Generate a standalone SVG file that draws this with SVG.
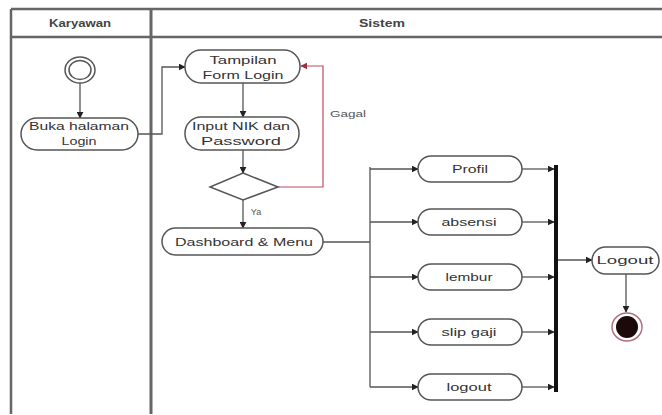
<svg xmlns="http://www.w3.org/2000/svg" width="662" height="415" viewBox="0 0 662 415">
<style>
text{font-family:"Liberation Sans",Arial,sans-serif;fill:#333;text-anchor:middle}
.hdr{font-size:10px;font-weight:bold;fill:#444}
.lbl{font-size:11px}
.small{font-size:9px;fill:#555}
.node{fill:#fff;stroke:#555;stroke-width:1.5}
.lane{stroke:#666;stroke-width:2.5;fill:none}
.conn{stroke:#555;stroke-width:1.3;fill:none}
.red{stroke:#c04a60;stroke-width:1.2;fill:none}
</style>
<defs>
<marker id="arr" viewBox="0 0 10 10" refX="9" refY="5" markerWidth="7" markerHeight="7" orient="auto" markerUnits="userSpaceOnUse">
<path d="M0,0 L10,5 L0,10 z" fill="#222"/>
</marker>
<marker id="arrR" viewBox="0 0 10 10" refX="9" refY="5" markerWidth="7" markerHeight="7" orient="auto" markerUnits="userSpaceOnUse">
<path d="M0,0 L10,5 L0,10 z" fill="#a03040"/>
</marker>
</defs>
<rect width="662" height="415" fill="#fff"/>
<g id="lanes">
<line class="lane" x1="11" y1="9" x2="662" y2="9"/>
<line class="lane" x1="11" y1="37" x2="662" y2="37"/>
<line class="lane" x1="11" y1="9" x2="11" y2="414"/>
<line class="lane" x1="151" y1="9" x2="151" y2="414" style="stroke-width:3"/>
<text class="hdr" x="80" y="27" textLength="62" lengthAdjust="spacingAndGlyphs">Karyawan</text>
<text class="hdr" x="382" y="27" textLength="46" lengthAdjust="spacingAndGlyphs">Sistem</text>
</g>
<g id="connectors">
<line class="conn" x1="80" y1="83" x2="80" y2="118" marker-end="url(#arr)"/>
<polyline class="conn" points="138,134 162,134 162,67 185,67" marker-end="url(#arr)"/>
<line class="conn" x1="243" y1="83" x2="243" y2="117" marker-end="url(#arr)"/>
<line class="conn" x1="243" y1="150" x2="243" y2="173" marker-end="url(#arr)"/>
<polyline class="red" points="278,187 323,187 323,66 301,66" marker-end="url(#arrR)"/>
<text class="small" x="348" y="117" textLength="36" lengthAdjust="spacingAndGlyphs">Gagal</text>
<line class="conn" x1="243" y1="200" x2="243" y2="228" marker-end="url(#arr)"/>
<text class="small" x="256" y="215">Ya</text>
<line class="conn" x1="323" y1="242" x2="370" y2="242"/>
<line class="conn" x1="370" y1="167" x2="370" y2="387"/>
<line class="conn" x1="370" y1="169" x2="418" y2="169" marker-end="url(#arr)"/>
<line class="conn" x1="370" y1="222" x2="418" y2="222" marker-end="url(#arr)"/>
<line class="conn" x1="370" y1="277" x2="418" y2="277" marker-end="url(#arr)"/>
<line class="conn" x1="370" y1="332" x2="418" y2="332" marker-end="url(#arr)"/>
<line class="conn" x1="370" y1="387" x2="418" y2="387" marker-end="url(#arr)"/>
<line class="conn" x1="522" y1="169" x2="554" y2="169" marker-end="url(#arr)"/>
<line class="conn" x1="522" y1="222" x2="554" y2="222" marker-end="url(#arr)"/>
<line class="conn" x1="522" y1="277" x2="554" y2="277" marker-end="url(#arr)"/>
<line class="conn" x1="522" y1="332" x2="554" y2="332" marker-end="url(#arr)"/>
<line class="conn" x1="522" y1="387" x2="554" y2="387" marker-end="url(#arr)"/>
<line class="conn" x1="558" y1="260" x2="592" y2="260" marker-end="url(#arr)"/>
<line class="conn" x1="626" y1="274" x2="626" y2="312" marker-end="url(#arr)"/>
</g>
<g id="start">
<ellipse cx="80" cy="70" rx="15" ry="13" fill="#fff" stroke="#555" stroke-width="1.5"/>
<ellipse cx="80" cy="70" rx="11" ry="9.5" fill="#fff" stroke="#555" stroke-width="1.5"/>
</g>
<g id="buka">
<rect class="node" x="21" y="118" width="117" height="32" rx="16"/>
<text class="lbl" x="79" y="130" textLength="100" lengthAdjust="spacingAndGlyphs">Buka halaman</text>
<text class="lbl" x="79" y="145" textLength="35" lengthAdjust="spacingAndGlyphs">Login</text>
</g>
<g id="tampilan">
<rect class="node" x="185" y="50" width="115" height="33" rx="16"/>
<text class="lbl" x="243" y="64" textLength="67" lengthAdjust="spacingAndGlyphs">Tampilan</text>
<text class="lbl" x="243" y="79" textLength="81" lengthAdjust="spacingAndGlyphs">Form Login</text>
</g>
<g id="input">
<rect class="node" x="185" y="117" width="114" height="33" rx="16"/>
<text class="lbl" x="241" y="130" textLength="98" lengthAdjust="spacingAndGlyphs">Input NIK dan</text>
<text class="lbl" x="241" y="145" textLength="80" lengthAdjust="spacingAndGlyphs">Password</text>
</g>
<g id="decision">
<polygon points="243,173 278,187 243,200 210,187" fill="#fff" stroke="#555" stroke-width="1.5"/>
</g>
<g id="dashboard">
<rect class="node" x="162" y="228" width="161" height="27" rx="13.5"/>
<text class="lbl" x="244" y="246" textLength="138" lengthAdjust="spacingAndGlyphs">Dashboard &amp; Menu</text>
</g>
<g id="profil">
<rect class="node" x="418" y="156" width="104" height="26" rx="13"/>
<text class="lbl" x="470" y="173" textLength="36" lengthAdjust="spacingAndGlyphs">Profil</text>
</g>
<g id="absensi">
<rect class="node" x="418" y="209" width="104" height="26" rx="13"/>
<text class="lbl" x="469" y="226" textLength="55" lengthAdjust="spacingAndGlyphs">absensi</text>
</g>
<g id="lembur">
<rect class="node" x="418" y="264" width="104" height="26" rx="13"/>
<text class="lbl" x="469" y="281" textLength="47" lengthAdjust="spacingAndGlyphs">lembur</text>
</g>
<g id="slipgaji">
<rect class="node" x="418" y="319" width="104" height="26" rx="13"/>
<text class="lbl" x="469" y="336" textLength="55" lengthAdjust="spacingAndGlyphs">slip gaji</text>
</g>
<g id="logout">
<rect class="node" x="418" y="374" width="104" height="26" rx="13"/>
<text class="lbl" x="469" y="391" textLength="45" lengthAdjust="spacingAndGlyphs">logout</text>
</g>
<g id="join">
<rect x="554" y="165" width="4" height="227" fill="#111"/>
</g>
<g id="logout2">
<rect class="node" x="592" y="247" width="67" height="27" rx="13.5"/>
<text class="lbl" x="625" y="264" textLength="57" lengthAdjust="spacingAndGlyphs">Logout</text>
</g>
<g id="end">
<ellipse cx="627" cy="327" rx="15" ry="14" fill="#fff" stroke="#b07080" stroke-width="1.5"/>
<circle cx="627" cy="327" r="11" fill="#1a0a0a"/>
</g>
</svg>
